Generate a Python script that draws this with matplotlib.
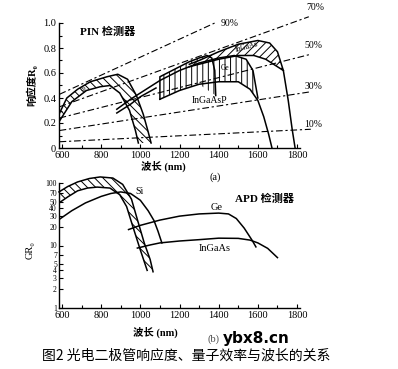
import matplotlib
matplotlib.use('Agg')
import matplotlib.pyplot as plt
from matplotlib.ticker import MultipleLocator, FixedLocator, FixedFormatter, NullLocator

plt.rcParams['font.family'] = ['Liberation Serif', 'Noto Sans CJK SC', 'DejaVu Sans']
plt.rcParams['hatch.linewidth'] = 0.7

# ---------- (a) PIN 检测器: 响应度 ----------
si_up_x = [585, 625, 680, 745, 830, 885, 935, 980, 1015, 1040, 1055]
si_up_y = [0.27, 0.40, 0.47, 0.53, 0.57, 0.59, 0.55, 0.42, 0.27, 0.13, 0.04]
si_lo_x = [585, 650, 725, 795, 845, 895, 945, 975, 990]
si_lo_y = [0.21, 0.37, 0.46, 0.49, 0.50, 0.44, 0.30, 0.14, 0.04]

ge_hi_x = [880, 950, 1000, 1100, 1200, 1300, 1400, 1480, 1540, 1575, 1600]
ge_hi_y = [0.31, 0.39, 0.44, 0.54, 0.62, 0.68, 0.72, 0.74, 0.71, 0.62, 0.40]
ge_stick_x = [880, 950, 1000, 1080]
ge_stick_y = [0.28, 0.35, 0.41, 0.48]
band_lo_x = [1100, 1200, 1300, 1400, 1500, 1560, 1600, 1630, 1655, 1672]
band_lo_y = [0.39, 0.46, 0.51, 0.53, 0.53, 0.47, 0.38, 0.25, 0.11, 0.0]

q_x = [1100, 1100, 1150, 1200, 1250, 1300, 1340, 1365, 1380, 1385]
q_y = [0.39, 0.57, 0.61, 0.65, 0.69, 0.72, 0.74, 0.72, 0.62, 0.42]

ga_up_x = [1250, 1300, 1400, 1500, 1600, 1660, 1700, 1730, 1755, 1775, 1790]
ga_up_y = [0.67, 0.70, 0.77, 0.83, 0.86, 0.84, 0.77, 0.62, 0.38, 0.15, 0.0]
ga_lo_x = [1250, 1300, 1400, 1500, 1580, 1640, 1690, 1730]
ga_lo_y = [0.65, 0.67, 0.71, 0.74, 0.74, 0.71, 0.66, 0.62]

# 量子效率线 (起点, 终点)
eta_labels = ['90%', '70%', '50%', '30%', '10%']
eta_x0 = [588, 588, 588, 588, 588]
eta_y0 = [0.43, 0.33, 0.24, 0.14, 0.05]
eta_x1 = [1380, 1860, 1870, 1870, 1870]
eta_y1 = [1.00, 1.05, 0.75, 0.45, 0.15]
eta_lab_x = [1458, 1892, 1882, 1882, 1882]
eta_lab_y = [1.00, 1.12, 0.82, 0.49, 0.19]

# ---------- (b) APD 检测器: G R0 ----------
apd_band_up_x = [585, 630, 680, 740, 795, 860, 910, 955, 985, 1020, 1050, 1065]
apd_band_up_y = [72, 88, 104, 118, 125, 120, 95, 55, 26, 11, 6, 3.8]
apd_band_lo_x = [585, 630, 680, 730, 780, 845, 895, 930, 960, 1000, 1035]
apd_band_lo_y = [48, 60, 75, 83, 86, 83, 65, 42, 21, 8.5, 4]
apd_si_x = [585, 650, 720, 800, 850, 900, 950, 1000, 1040, 1070, 1090, 1110]
apd_si_y = [26, 36, 48, 61, 68, 72, 68, 53, 36, 25, 17, 11]
apd_ge_x = [940, 1000, 1100, 1200, 1300, 1400, 1450, 1490, 1530, 1570, 1590]
apd_ge_y = [18, 21, 25.5, 29.5, 32, 33, 32, 27, 19, 12.2, 9.5]
apd_ga_x = [985, 1050, 1100, 1200, 1300, 1400, 1500, 1560, 1600, 1650, 1700]
apd_ga_y = [9.1, 10.2, 11, 11.8, 12.4, 13.1, 13, 12.2, 11, 9, 6.4]

log_ticks = [1, 2, 3, 4, 5, 7, 10, 20, 30, 40, 50, 70, 100]

W, H = 398, 369
fig = plt.figure(figsize=(W / 100, H / 100), dpi=100)


def box(l, t, r, b):
    return [l / W, 1 - b / H, (r - l) / W, (b - t) / H]


ax1 = fig.add_axes(box(59, 23, 300, 148))
ax2 = fig.add_axes(box(59, 183, 300, 308))

lw = 1.1
for ax in (ax1, ax2):
    ax.set_xlim(585, 1815)
    ax.spines['top'].set_visible(False)
    ax.spines['right'].set_visible(False)
    ax.spines['left'].set_linewidth(1.0)
    ax.spines['bottom'].set_linewidth(1.0)
    ax.xaxis.set_major_locator(FixedLocator([600, 800, 1000, 1200, 1400, 1600, 1800]))
    ax.xaxis.set_minor_locator(MultipleLocator(100))
    ax.tick_params(which='both', direction='in', labelsize=7.5, width=0.8, pad=2)
    ax.tick_params(which='major', length=3)
    ax.tick_params(which='minor', length=2.5)


def hatch_fill(ax, xs, ys, pattern, clip=True):
    # 只画剖面线, 不画边框
    ax.fill(xs, ys, facecolor='white', edgecolor='black', linewidth=0,
            hatch=pattern, clip_on=clip)


# --- (a) ---
ax1.set_ylim(0, 1.0)
ax1.yaxis.set_major_locator(FixedLocator([0, 0.2, 0.4, 0.6, 0.8, 1.0]))
ax1.yaxis.set_major_formatter(FixedFormatter(['0', '0.2', '0.4', '0.6', '0.8', '1.0']))
ax1.yaxis.set_minor_locator(MultipleLocator(0.1))

for i in range(len(eta_labels)):
    ax1.plot([eta_x0[i], eta_x1[i]], [eta_y0[i], eta_y1[i]], color='black', lw=0.8,
             linestyle=(0, (6, 2.5, 2, 2.5)), clip_on=False)
    ax1.text(eta_lab_x[i], eta_lab_y[i], eta_labels[i], fontsize=7, ha='center', va='center',
             clip_on=False)

hatch_fill(ax1, si_up_x + si_lo_x[::-1], si_up_y + si_lo_y[::-1], '\\\\\\\\')
hatch_fill(ax1, ge_hi_x[3:] + band_lo_x[:7][::-1], ge_hi_y[3:] + band_lo_y[:7][::-1], '|||')
hatch_fill(ax1, q_x + band_lo_x[:3][::-1], q_y + band_lo_y[:3][::-1], '|||')
hatch_fill(ax1, ga_up_x[:8] + ga_lo_x[::-1], ga_up_y[:8] + ga_lo_y[::-1], '////')

ax1.plot(si_up_x, si_up_y, color='black', lw=lw)
ax1.plot(si_lo_x, si_lo_y, color='black', lw=lw)
ax1.plot(ge_hi_x, ge_hi_y, color='black', lw=lw)
ax1.plot(ge_stick_x, ge_stick_y, color='black', lw=lw)
ax1.plot(band_lo_x, band_lo_y, color='black', lw=lw)
ax1.plot(q_x, q_y, color='black', lw=lw)
ax1.plot(ga_up_x, ga_up_y, color='black', lw=lw)
ax1.plot(ga_lo_x, ga_lo_y, color='black', lw=lw)

ax1.text(835, 0.93, 'PIN 检测器', fontsize=8, ha='center', va='center', weight='bold')
ax1.text(1264, 0.38, 'InGaAsP', fontsize=7, ha='left', va='center')
ax1.text(1432, 0.64, 'Ge', fontsize=5.5, ha='center', va='center')
ax1.text(1545, 0.81, 'InGaAs', fontsize=5.5, ha='center', va='center', rotation=15)
ax1.text(712, 0.47, 'Si', fontsize=5, ha='center', va='center')
ax1.text(1381, -0.235, '(a)', fontsize=7.5, ha='center', va='center', clip_on=False)

# --- (b) ---
ax2.set_yscale('log')
ax2.set_ylim(1, 100)
ax2.yaxis.set_major_locator(FixedLocator(log_ticks))
ax2.yaxis.set_major_formatter(FixedFormatter([str(t) for t in log_ticks]))
ax2.yaxis.set_minor_locator(NullLocator())
ax2.tick_params(axis='y', labelsize=5.5, pad=1.5)

hatch_fill(ax2, apd_band_up_x + apd_band_lo_x[::-1], apd_band_up_y + apd_band_lo_y[::-1],
           '\\\\\\\\', clip=False)
ax2.plot(apd_band_up_x, apd_band_up_y, color='black', lw=lw, clip_on=False)
ax2.plot(apd_band_lo_x, apd_band_lo_y, color='black', lw=lw)
ax2.plot(apd_si_x, apd_si_y, color='black', lw=lw)
ax2.plot(apd_ge_x, apd_ge_y, color='black', lw=lw)
ax2.plot(apd_ga_x, apd_ga_y, color='black', lw=lw)

ax2.text(998, 72, 'Si', fontsize=7, ha='center', va='center')
ax2.text(1392, 41, 'Ge', fontsize=7.5, ha='center', va='center')
ax2.text(1381, 8.8, 'InGaAs', fontsize=7.5, ha='center', va='center')
ax2.text(1632, 56, 'APD 检测器', fontsize=8, ha='center', va='center', weight='bold')

# --- labels ---
fig.text(32 / W, 1 - 85 / H, '响应度R₀', rotation=90, fontsize=7.5, ha='center', va='center',
         weight='bold')
fig.text(30 / W, 1 - 250 / H, 'GR₀', rotation=90, fontsize=7.5, ha='center', va='center')
fig.text(163 / W, 1 - 166 / H, '波长 (nm)', fontsize=7.5, ha='center', va='center', weight='bold')
fig.text(155 / W, 1 - 332 / H, '波长 (nm)', fontsize=7.5, ha='center', va='center', weight='bold')
fig.text(213 / W, 1 - 339 / H, '(b)', fontsize=7.5, ha='center', va='center', color='0.3')
fig.text(256 / W, 1 - 339 / H, 'ybx8.cn', fontsize=11, ha='center', va='center',
         family='DejaVu Sans', weight='bold')
fig.text(42 / W, 1 - 356 / H, '图2 光电二极管响应度、量子效率与波长的关系', fontsize=10,
         ha='left', va='center', family=['Noto Sans CJK SC', 'DejaVu Sans'])

fig.savefig('out.png', dpi=100)
